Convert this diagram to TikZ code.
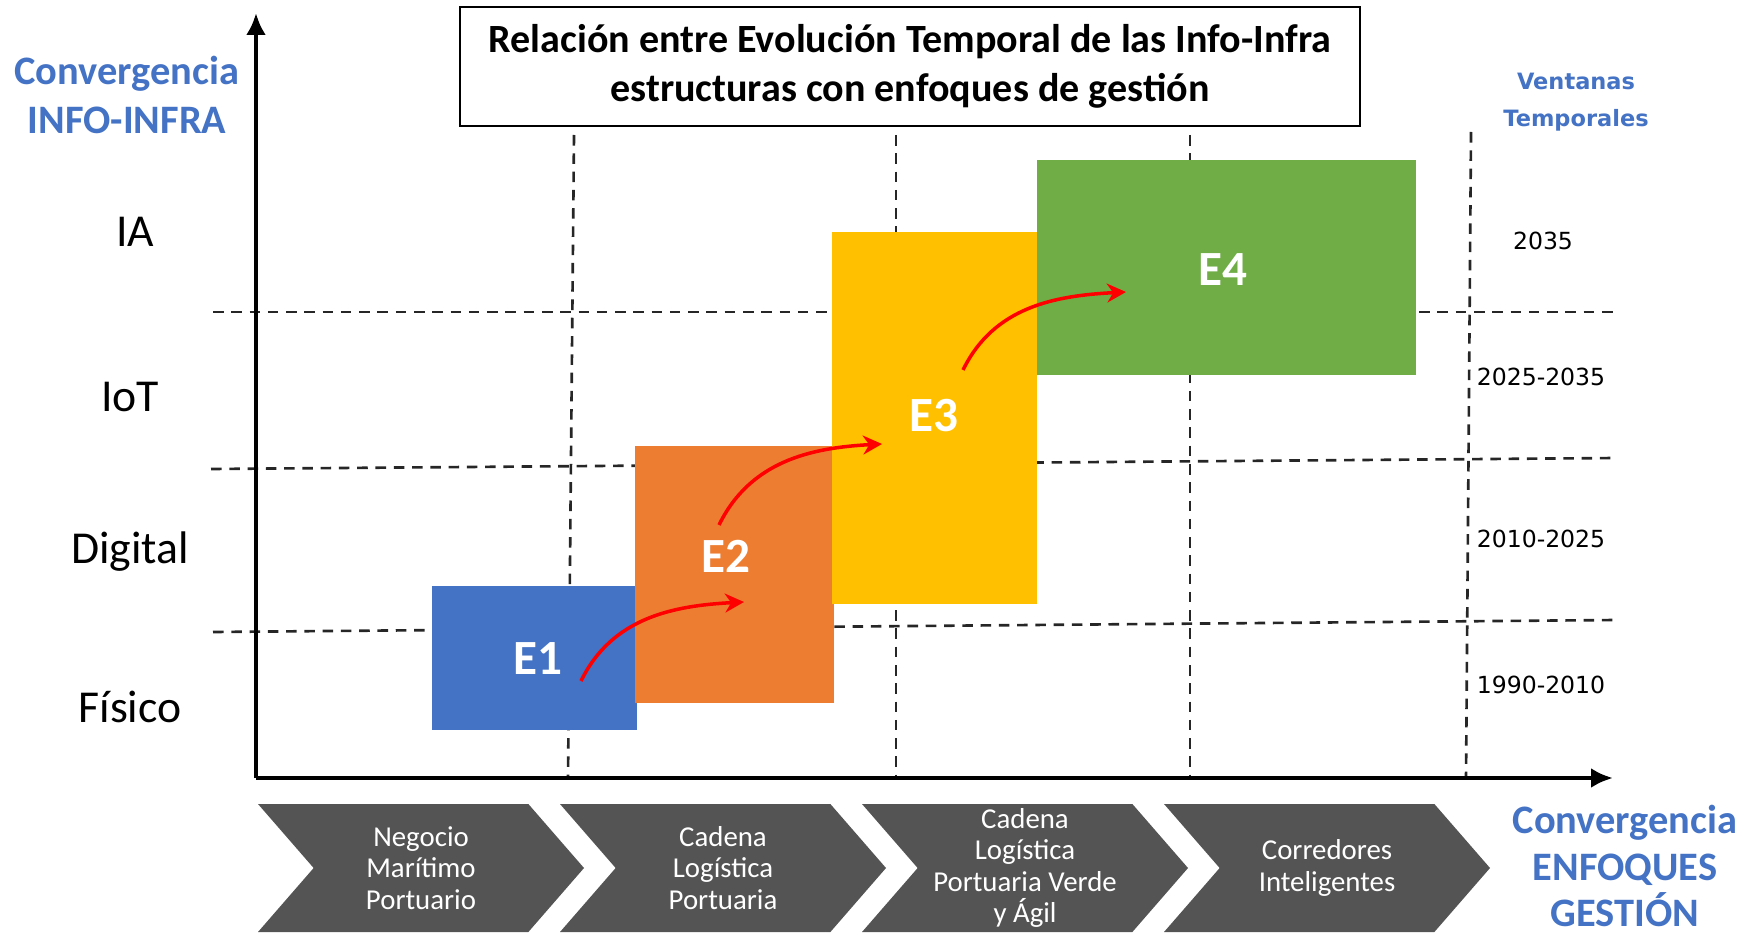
\documentclass[tikz,border=0pt]{standalone}
\usepackage{fontspec}
\setmainfont{Carlito}
\newfontfamily\verdfont{DejaVu Sans}
\usetikzlibrary{arrows.meta,shapes.symbols}
\definecolor{eblue}{HTML}{4472C4}
\definecolor{eorange}{HTML}{ED7D31}
\definecolor{eyellow}{HTML}{FFC000}
\definecolor{egreen}{HTML}{70AD47}
\definecolor{chevgrey}{HTML}{545454}
\definecolor{labblue}{HTML}{4472C4}

\begin{document}
\begin{tikzpicture}[x=0.1mm,y=0.1mm,
  guide/.style={line width=0.75pt, dash pattern=on 3pt off 2.2pt, black!85},
  axis/.style={line width=1.4pt, -{Latex[length=2.2mm,width=2mm]}},
  flow/.style={red, line width=1pt, -{Stealth[length=1.9mm,width=1.9mm]}},
  stage/.style={white, font=\bfseries\fontsize{14}{16}\selectfont},
  level/.style={font=\fontsize{13}{15}\selectfont},
  period/.style={font=\verdfont\fontsize{6.7}{8}\selectfont},
  heading/.style={labblue, align=center, font=\bfseries\fontsize{11.5}{13.7}\selectfont},
  chevron/.style={signal, signal from=west, signal to=east, signal pointer angle=98,
    fill=chevgrey, minimum width=32.6mm, minimum height=12.8mm, inner sep=0pt,
    align=center, text=white, font=\fontsize{8.2}{8.9}\selectfont}]
\useasboundingbox (0,0) rectangle (1760,-935);

% title
\node [draw, line width=0.8pt, minimum width=90mm, minimum height=11.9mm, align=center,
  font=\bfseries\fontsize{11.4}{13.8}\selectfont] (title) at (910,-66.5)
  {Relación entre Evolución Temporal de las Info-Infra\\estructuras con enfoques de gestión};

% grid
\draw [guide] (574,-135) -- (568,-778);
\draw [guide] (896,-135) -- (896,-778);
\draw [guide] (1190,-135) -- (1190,-778);
\draw [guide] (1471,-132) -- (1466,-778);

\draw [guide] (213,-312) -- (1616,-312);
\draw [guide] (211,-469) -- (1616,-458);
\draw [guide] (213,-632) -- (1616,-620);

% stages
\fill [eblue] (432,-586) rectangle (637,-730);
\fill [eorange] (635,-446) rectangle (834,-703);
\fill [eyellow] (832,-232) rectangle (1037,-604);
\fill [egreen] (1037,-160) rectangle (1416,-375);

\node [stage] (e1) at (538,-659) {E1};
\node [stage] (e2) at (726,-556) {E2};
\node [stage] (e3) at (934,-416) {E3};
\node [stage] (e4) at (1223,-270) {E4};

\coordinate (a1s) at (581,-681);
\coordinate (a1e) at (744,-602);
\coordinate (a2s) at (719,-525);
\coordinate (a2e) at (882,-444);
\coordinate (a3s) at (963,-370);
\coordinate (a3e) at (1126,-292);
\draw [flow] (a1s) to[out=64, in=183] (a1e);
\draw [flow] (a2s) to[out=64, in=183] (a2e);
\draw [flow] (a3s) to[out=64, in=183] (a3e);

% axes
\coordinate (o) at (256,-778);
\coordinate (ytop) at (256,-13);
\coordinate (xend) at (1613,-778);
\draw [axis] (o) -- (ytop);
\draw [axis] (o) -- (xend);

% left labels
\node [heading] (infohead) at (127,-95) {Convergencia\\INFO-INFRA};
\node [level] (ia) at (135,-232) {IA};
\node [level] (iot) at (130,-397) {IoT};
\node [level] (digital) at (130,-552) {Digital};
\node [level] (fisico) at (130,-707) {Físico};

% right labels
\node [labblue, align=center, font=\verdfont\bfseries\fontsize{6.4}{10.5}\selectfont] (ventanas) at (1576,-102) {Ventanas\\Temporales};
\node [period] (p4) at (1543,-241) {2035};
\node [period] (p3) at (1541,-377) {2025-2035};
\node [period] (p2) at (1541,-539) {2010-2025};
\node [period] (p1) at (1541,-685) {1990-2010};

% management approaches
\node [chevron] (c1) at (421,-868) {Negocio\\Marítimo\\Portuario};
\node [chevron] (c2) at (723,-868) {Cadena\\Logística\\Portuaria};
\node [chevron] (c3) at (1025,-868) {Cadena\\Logística\\Portuaria Verde\\y Ágil};
\node [chevron] (c4) at (1327,-868) {Corredores\\Inteligentes};
\node [heading, font=\bfseries\fontsize{11.5}{13.2}\selectfont] (enfhead) at (1625,-866) {Convergencia\\ENFOQUES\\GESTIÓN};
\end{tikzpicture}
\end{document}
